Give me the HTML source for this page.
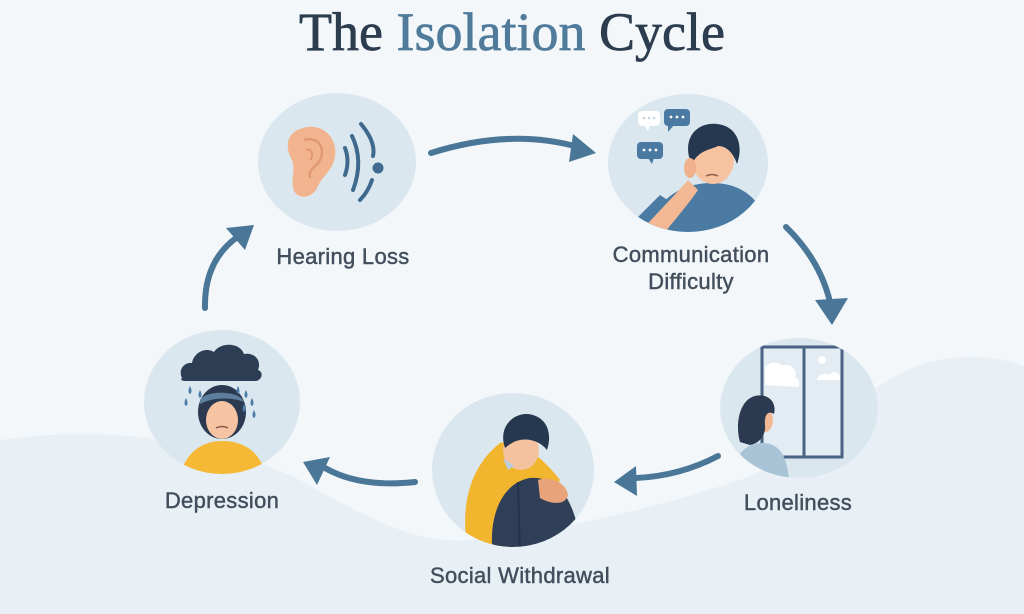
<!DOCTYPE html>
<html><head><meta charset="utf-8">
<style>
html,body{margin:0;padding:0;background:#f3f7fa;}
svg{display:block;}
.t{font-family:"Liberation Serif",serif;font-size:54px;}
.l{font-family:"Liberation Sans",sans-serif;font-size:22px;fill:#434e5c;stroke:#434e5c;stroke-width:0.45px;letter-spacing:0.3px;}
</style></head>
<body>
<svg width="1024" height="614" viewBox="0 0 1024 614" xmlns="http://www.w3.org/2000/svg">
<defs>
<clipPath id="c1"><ellipse cx="337" cy="162" rx="79" ry="69"/></clipPath>
<clipPath id="c2"><ellipse cx="688" cy="163" rx="80" ry="69"/></clipPath>
<clipPath id="c3"><ellipse cx="799" cy="408" rx="79" ry="70"/></clipPath>
<clipPath id="c4"><ellipse cx="513" cy="470" rx="81" ry="77"/></clipPath>
<clipPath id="c5"><ellipse cx="222" cy="402" rx="78" ry="72"/></clipPath>
</defs>
<rect width="1024" height="614" fill="#f3f7fa"/>
<path d="M0,440 C80,428 200,432 300,480 C370,520 420,545 470,540 C560,530 650,510 740,480 C820,450 860,380 930,362 C970,352 1000,358 1024,366 L1024,614 L0,614 Z" fill="#e8f0f6"/>

<!-- title -->
<text class="t" x="512" y="50" text-anchor="middle" stroke-width="0.7"><tspan fill="#2c3d4f" stroke="#2c3d4f">The </tspan><tspan fill="#507b9a" stroke="#507b9a">Isolation</tspan><tspan fill="#2c3d4f" stroke="#2c3d4f"> Cycle</tspan></text>

<!-- circles -->
<ellipse cx="337" cy="162" rx="79" ry="69" fill="#dbe7ef"/>
<ellipse cx="688" cy="163" rx="80" ry="69" fill="#dbe7ef"/>
<ellipse cx="799" cy="408" rx="79" ry="70" fill="#dbe7ef"/>
<ellipse cx="513" cy="470" rx="81" ry="77" fill="#dbe7ef"/>
<ellipse cx="222" cy="402" rx="78" ry="72" fill="#dbe7ef"/>

<!-- Hearing loss icon -->
<g clip-path="url(#c1)">
<path d="M300,129 C320,121 338,136 335,156 C333,171 322,176 318,186 C314,197 300,201 294,191 C290,181 296,170 292,160 C285,148 286,134 300,129 Z" fill="#f2b48f"/>
<path d="M304,140 C318,136 326,148 320,160 C316,168 308,168 310,178" fill="none" stroke="#df9872" stroke-width="2.5"/>
<path d="M306,150 C312,148 314,156 310,160" fill="none" stroke="#df9872" stroke-width="2"/>
<path d="M345,148 Q350,161 345,175" fill="none" stroke="#3f6a8e" stroke-width="4" stroke-linecap="round"/>
<path d="M352,136 Q364,161 353,190" fill="none" stroke="#3f6a8e" stroke-width="4" stroke-linecap="round"/>
<path d="M361,124 Q376,142 373,156" fill="none" stroke="#3f6a8e" stroke-width="4" stroke-linecap="round"/>
<path d="M372,180 Q368,192 360,200" fill="none" stroke="#3f6a8e" stroke-width="4" stroke-linecap="round"/>
<circle cx="378" cy="168" r="5.5" fill="#3f6a8e"/>
</g>

<!-- Communication icon -->
<g clip-path="url(#c2)">
<path d="M648,240 C652,200 680,183 712,183 C747,183 766,205 772,240 Z" fill="#4b7ba3"/>
<path d="M630,225 L660,195 L675,205 L648,235 Z" fill="#4b7ba3"/>
<path d="M640,232 C660,210 675,195 688,180 L698,190 C688,205 670,225 655,245 Z" fill="#f3b894"/>
<ellipse cx="713" cy="160" rx="21" ry="24" fill="#f6c2a0"/>
<path d="M689,157 C684,134 700,122 717,124 C737,126 744,145 737,164 C733,152 726,146 718,146 C710,150 700,150 693,162 Z" fill="#26384f"/>
<ellipse cx="690" cy="168" rx="6" ry="10" fill="#f0b18c"/>
<path d="M706,176 Q712,173 718,176" fill="none" stroke="#8a5a4a" stroke-width="1.5"/>
<rect x="638" y="111" width="22" height="15" rx="4" fill="#ffffff"/>
<path d="M644,125 L648,131 L650,125 Z" fill="#ffffff"/>
<rect x="664" y="109" width="26" height="17" rx="4" fill="#4a79a2"/>
<path d="M668,125 L668,132 L674,125 Z" fill="#4a79a2"/>
<rect x="637" y="142" width="26" height="17" rx="4" fill="#4a79a2"/>
<path d="M648,158 L652,164 L654,158 Z" fill="#4a79a2"/>
<g fill="#c9d6e0"><circle cx="644" cy="118" r="1.3"/><circle cx="649" cy="118" r="1.3"/><circle cx="654" cy="118" r="1.3"/></g>
<g fill="#ffffff"><circle cx="671" cy="117" r="1.4"/><circle cx="677" cy="117" r="1.4"/><circle cx="683" cy="117" r="1.4"/>
<circle cx="644" cy="150" r="1.4"/><circle cx="650" cy="150" r="1.4"/><circle cx="656" cy="150" r="1.4"/></g>
</g>

<!-- Loneliness icon -->
<g clip-path="url(#c3)">
<rect x="762" y="347" width="80" height="110" fill="#e3ecf3" stroke="#4a6283" stroke-width="3"/>
<line x1="804" y1="347" x2="804" y2="457" stroke="#4a6283" stroke-width="3"/>
<path d="M765,385 L765,368 C770,360 780,362 782,366 C790,362 798,370 795,377 C800,379 800,385 798,387 Z" fill="#ffffff"/>
<circle cx="822" cy="360" r="4" fill="#ffffff"/>
<path d="M817,380 C818,374 826,372 829,375 C833,370 841,372 840,380 Z" fill="#ffffff"/>
<path d="M733,480 C733,455 746,443 762,443 C779,443 787,455 789,480 Z" fill="#a9c4d7"/>
<ellipse cx="765" cy="420" rx="8" ry="12" fill="#f2b894"/>
<path d="M740,442 C735,425 739,400 755,396 C768,393 777,402 774,414 C768,410 764,415 765,425 C766,435 760,443 750,445 Z" fill="#2b3a50"/>
</g>

<!-- Social withdrawal icon -->
<g clip-path="url(#c4)">
<path d="M468,550 C460,510 468,468 500,443 L537,455 C520,480 510,510 505,550 Z" fill="#f2b52e"/>
<path d="M500,443 C520,438 545,460 560,480 L548,500 C530,490 510,475 495,465 Z" fill="#f2b52e"/>
<path d="M493,555 C488,520 500,483 530,478 C562,476 577,505 582,555 Z" fill="#2f3f58"/>
<path d="M518,482 L520,555" stroke="#243349" stroke-width="2"/>
<ellipse cx="521" cy="450" rx="18" ry="20" fill="#f5c2a0"/>
<path d="M505,448 C498,428 512,413 528,414 C546,416 553,432 547,450 C541,442 530,438 520,440 C514,441 510,444 505,448 Z" fill="#26384f"/>
<path d="M538,480 C550,476 566,482 568,495 C566,505 552,505 540,498 Z" fill="#e9a37a"/>
<path d="M503,458 L508,470 L514,466 Z" fill="#b9cfe0"/>
</g>

<!-- Depression icon -->
<g clip-path="url(#c5)">
<path d="M178,490 C180,455 200,441 222,441 C247,441 266,455 268,490 Z" fill="#f5b935"/>
<ellipse cx="222" cy="412" rx="24" ry="27" fill="#2b3a50"/>
<ellipse cx="222" cy="420" rx="16" ry="19" fill="#f6c4a2"/>
<path d="M200,400 C205,390 240,390 244,402 C235,398 215,396 200,404 Z" fill="#5d7e9c"/>
<path d="M216,428 Q222,425 228,428" fill="none" stroke="#8a5a4a" stroke-width="1.5"/>
<path d="M182,378 C178,370 184,362 192,363 C194,352 206,347 214,352 C220,342 240,342 244,354 C254,352 262,360 258,370 C264,372 262,380 256,381 L186,381 C182,381 180,380 182,378 Z" fill="#2d3d54"/>
<g fill="#4b7ba6">
<path d="M190,386 q-3,6 0,8 q3,-2 0,-8z"/><path d="M200,390 q-3,6 0,8 q3,-2 0,-8z"/>
<path d="M186,398 q-3,6 0,8 q3,-2 0,-8z"/><path d="M246,390 q-3,6 0,8 q3,-2 0,-8z"/>
<path d="M252,398 q-3,6 0,8 q3,-2 0,-8z"/><path d="M244,404 q-3,6 0,8 q3,-2 0,-8z"/>
<path d="M254,410 q-3,6 0,8 q3,-2 0,-8z"/><path d="M238,386 q-3,6 0,8 q3,-2 0,-8z"/>
</g>
</g>

<!-- arrows -->
<g fill="none" stroke="#4a7797" stroke-width="6" stroke-linecap="round">
<path d="M431,153 Q510,128 578,147"/>
<path d="M786,227 Q820,260 830,302"/>
<path d="M718,456 Q680,476 636,478"/>
<path d="M415,482 Q360,488 325,468"/>
<path d="M205,308 Q204,262 236,238"/>
</g>
<g fill="#4a7797">
<polygon points="596,153 573,134 569,162"/>
<polygon points="832,325 815,300 848,298"/>
<polygon points="614,482 636,466 637,496"/>
<polygon points="303,462 330,457 317,485"/>
<polygon points="254,225 226,228 245,250"/>
</g>

<!-- labels -->
<text class="l" x="343" y="264" text-anchor="middle">Hearing Loss</text>
<text class="l" x="691" y="262" text-anchor="middle">Communication</text>
<text class="l" x="691" y="289" text-anchor="middle">Difficulty</text>
<text class="l" x="798" y="510" text-anchor="middle">Loneliness</text>
<text class="l" x="520" y="583" text-anchor="middle">Social Withdrawal</text>
<text class="l" x="222" y="508" text-anchor="middle">Depression</text>
</svg>
</body></html>
